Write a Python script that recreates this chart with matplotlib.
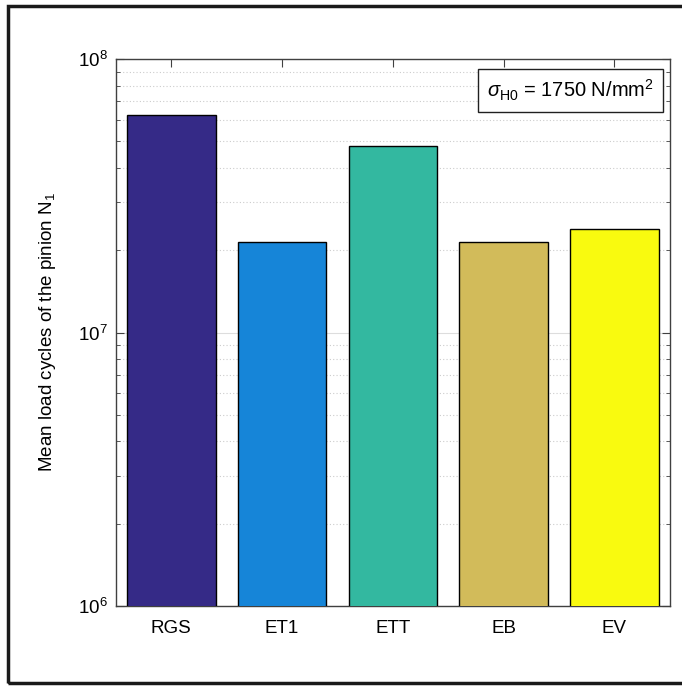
import matplotlib
matplotlib.use("Agg")
import matplotlib.pyplot as plt
from matplotlib.patches import Rectangle
from matplotlib.ticker import LogLocator, NullFormatter

plt.rcParams['font.family'] = ['Liberation Sans', 'DejaVu Sans']
plt.rcParams['mathtext.fontset'] = 'custom'
plt.rcParams['mathtext.rm'] = 'Liberation Sans'
plt.rcParams['mathtext.it'] = 'Liberation Sans:italic'
plt.rcParams['mathtext.sf'] = 'Liberation Sans'

# data
variants = ["RGS", "ET1", "ETT", "EB", "EV"]
load_cycles = [6.25e7, 2.14e7, 4.8e7, 2.14e7, 2.4e7]
bar_colors = ["#352A87", "#1685D8", "#33B8A0", "#D2BB5A", "#F9FA0F"]

fig = plt.figure(figsize=(6.82, 6.86), dpi=100)
ax = fig.add_axes([0.170, 0.1166, 0.812, 0.7974])

x = range(1, len(variants) + 1)
ax.bar(x, load_cycles, width=0.8, color=bar_colors, edgecolor="black",
       linewidth=1.0, zorder=3)

ax.set_yscale("log")
ax.set_ylim(1e6, 1e8)
ax.set_xlim(0.5, 5.5)
ax.set_xticks(list(x))
ax.set_xticklabels(variants, fontsize=13.5)
ax.yaxis.set_major_locator(LogLocator(base=10, numticks=5))
ax.yaxis.set_minor_locator(LogLocator(base=10, subs=range(2, 10), numticks=20))
ax.yaxis.set_minor_formatter(NullFormatter())
ax.tick_params(axis="y", labelsize=13.5, direction="in", right=True, length=6,
               colors="#404040", labelcolor="black", pad=6)
ax.tick_params(axis="y", which="minor", direction="in", right=True, length=3,
               colors="#404040")
ax.tick_params(axis="x", direction="in", top=True, length=6, pad=10,
               colors="#404040", labelcolor="black")

ax.grid(axis="y", which="major", color="#dddddd", linestyle="-", linewidth=0.8)
ax.grid(axis="y", which="minor", color="#cccccc", linestyle=(0, (1, 2)),
        linewidth=0.8)
ax.set_axisbelow(True)
for s in ax.spines.values():
    s.set_color("#404040")
    s.set_linewidth(1.0)

ax.set_ylabel("Mean load cycles of the pinion N$_1$", fontsize=13.5, labelpad=14)

ax.text(0.972, 0.965, r"$\sigma_{\mathrm{H0}}$ = 1750 N/mm$^2$",
        transform=ax.transAxes, ha="right", va="top", fontsize=14.5,
        bbox=dict(boxstyle="square,pad=0.45", facecolor="white",
                  edgecolor="#202020", linewidth=1.0), zorder=5)

# black frame around the figure, cut off on the right
fig.patches.append(Rectangle((0.011, 0.004), 1.2, 0.987, transform=fig.transFigure,
                             fill=False, edgecolor="#1a1a1a", linewidth=2.5))

fig.savefig("out.png", dpi=100)
